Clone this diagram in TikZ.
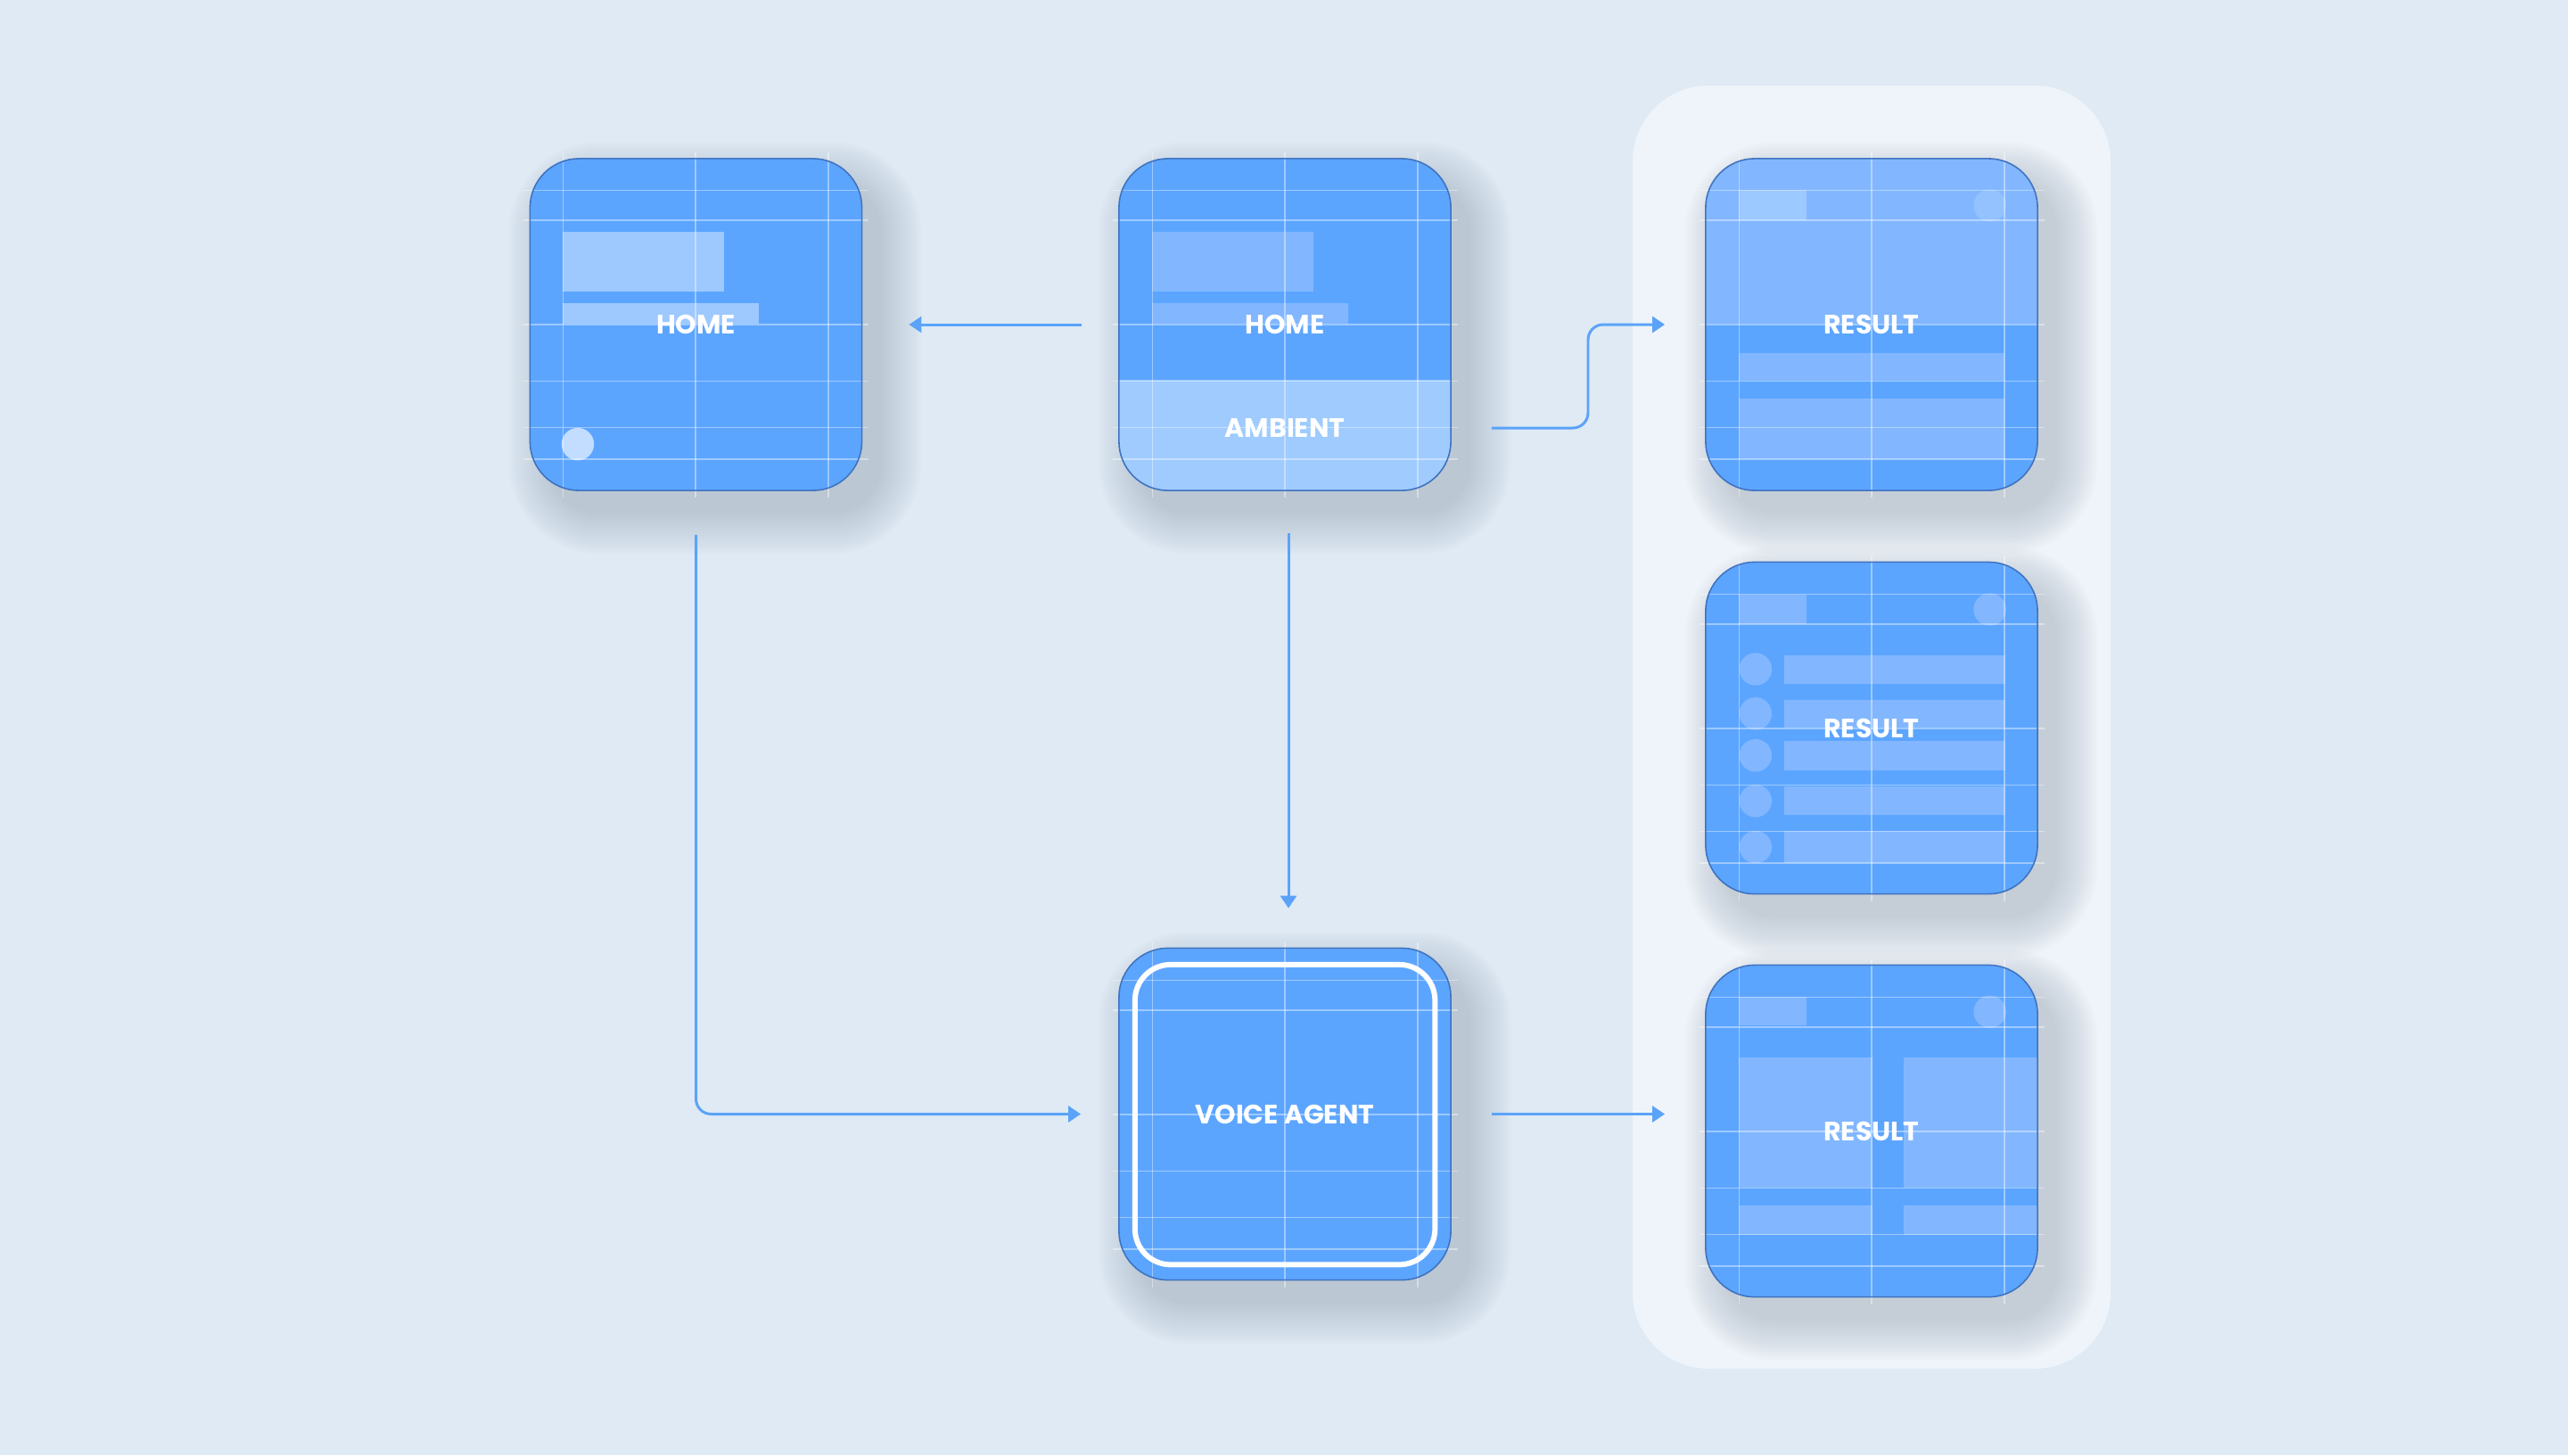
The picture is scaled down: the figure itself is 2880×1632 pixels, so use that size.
\documentclass[tikz,border=0pt]{standalone}
\usepackage{fontspec}
\newfontfamily\labelfont{Poppins}
\usetikzlibrary{arrows.meta}

\definecolor{bgc}{HTML}{DFEAF5}
\definecolor{panelc}{HTML}{EEF4FA}
\definecolor{shadowc}{HTML}{7F8C99}
\definecolor{tilec}{HTML}{5CA5FF}
\definecolor{tileedge}{HTML}{3F73C0}
\definecolor{lightc}{HTML}{9DC9FF}
\definecolor{dotc}{HTML}{C2DDFF}
\definecolor{midc}{HTML}{82B7FF}
\definecolor{ambc}{HTML}{9FCBFF}
\definecolor{softc}{HTML}{9CC9FF}
\definecolor{softdot}{HTML}{93C2FF}
\definecolor{flowc}{HTML}{5BA3F8}

\tikzset{
  tileframe/.style={draw=tileedge, line width=0.45pt, rounded corners=0.55cm,
    minimum width=3.72cm, minimum height=3.72cm, inner sep=0pt,
    font=\labelfont\bfseries\fontsize{8.5}{10}\selectfont, text=white},
  tiletext/.style={inner sep=0pt, font=\labelfont\bfseries\fontsize{8.5}{10}\selectfont, text=white},
  gridline/.style={draw=white, draw opacity=0.4, line width=0.4pt},
  flow/.style={draw=flowc, line width=0.85pt, rounded corners=0.17cm,
    -{Triangle[length=0.14cm,width=0.18cm]}},
}

% soft drop shadow under a tile whose top-left corner is (#1,#2)
\newcommand\tileshadow[2]{%
  \foreach \r in {0,3,...,45}{%
    \pgfmathsetmacro\rc{0.55+\r*0.01}%
    \fill[shadowc, opacity=0.024, rounded corners=\rc cm]
      ({#1+22-\r},{#2+26-\r}) rectangle ({#1+394+\r},{#2+398+\r});
  }}

% layout guides drawn over a tile, in tile-local coordinates
\newcommand\tilegrid{%
  \foreach \g in {0.1,0.5,0.9} \draw[gridline] (\g,-0.02) -- (\g,1.02);
  \foreach \g in {0.095,0.185,0.5,0.67,0.81,0.905} \draw[gridline] (-0.02,\g) -- (1.02,\g);
}

\begin{document}
\begin{tikzpicture}[x=0.01cm, y=-0.01cm]
\useasboundingbox (0,0) rectangle (2880,1632);
\fill[bgc] (0,0) rectangle (2880,1632);

% panel grouping the result screens
\fill[panelc, rounded corners=0.85cm] (1831,96) rectangle (2367,1535);

% shadows
\tileshadow{594}{178}
\tileshadow{1255}{178}
\tileshadow{1913}{178}
\tileshadow{1913}{631}
\tileshadow{1913}{1083}
\tileshadow{1255}{1064}

% HOME
\begin{scope}[shift={(594,178)}, x=3.72cm, y=-3.72cm]
  \begin{scope}
    \clip[rounded corners=0.55cm] (0,0) rectangle (1,1);
    \fill[tilec] (0,0) rectangle (1,1);
    \fill[lightc] (0.1,0.22) rectangle (0.585,0.40);
    \fill[lightc] (0.1,0.435) rectangle (0.69,0.497);
    \fill[dotc] (0.145,0.86) circle[radius=0.049];
  \end{scope}
  \tilegrid
\end{scope}
\node[tileframe] (home) at (780.5,364) {HOME};

% HOME / AMBIENT
\begin{scope}[shift={(1255,178)}, x=3.72cm, y=-3.72cm]
  \begin{scope}
    \clip[rounded corners=0.55cm] (0,0) rectangle (1,1);
    \fill[tilec] (0,0) rectangle (1,1);
    \fill[midc] (0.1,0.22) rectangle (0.585,0.40);
    \fill[midc] (0.1,0.435) rectangle (0.69,0.497);
    \fill[ambc] (0,0.667) rectangle (1,1);
  \end{scope}
  \tilegrid
\end{scope}
\node[tileframe] (homeamb) at (1441,364) {HOME};
\node[tiletext] (amb) at (1441,480) {AMBIENT};

% RESULT (detail)
\begin{scope}[shift={(1913,178)}, x=3.72cm, y=-3.72cm]
  \begin{scope}
    \clip[rounded corners=0.55cm] (0,0) rectangle (1,1);
    \fill[tilec] (0,0) rectangle (1,1);
    \fill[midc] (0,0) rectangle (1,0.497);
    \fill[softc] (0.1,0.094) rectangle (0.303,0.185);
    \fill[softdot] (0.856,0.141) circle[radius=0.049];
    \fill[midc] (0.1,0.585) rectangle (0.9,0.67);
    \fill[midc] (0.1,0.723) rectangle (0.9,0.905);
  \end{scope}
  \tilegrid
\end{scope}
\node[tileframe] (res1) at (2099,364) {RESULT};

% RESULT (list)
\begin{scope}[shift={(1913,631)}, x=3.72cm, y=-3.72cm]
  \begin{scope}
    \clip[rounded corners=0.55cm] (0,0) rectangle (1,1);
    \fill[tilec] (0,0) rectangle (1,1);
    \fill[midc] (0.1,0.097) rectangle (0.303,0.185);
    \fill[midc] (0.856,0.141) circle[radius=0.049];
    \foreach \cy/\ta/\tb in {0.321/0.279/0.364, 0.455/0.413/0.498, 0.581/0.538/0.625,
                            0.718/0.673/0.76, 0.857/0.809/0.906}{
      \fill[midc] (0.15,\cy) circle[radius=0.049];
      \fill[midc] (0.237,\ta) rectangle (0.903,\tb);
    }
  \end{scope}
  \tilegrid
\end{scope}
\node[tileframe] (res2) at (2099,816.5) {RESULT};

% RESULT (cards)
\begin{scope}[shift={(1913,1083)}, x=3.72cm, y=-3.72cm]
  \begin{scope}
    \clip[rounded corners=0.55cm] (0,0) rectangle (1,1);
    \fill[tilec] (0,0) rectangle (1,1);
    \fill[midc] (0.1,0.094) rectangle (0.303,0.18);
    \fill[midc] (0.856,0.139) circle[radius=0.049];
    \fill[midc] (0.1,0.277) rectangle (0.502,0.67);
    \fill[midc] (0.596,0.277) rectangle (1,0.67);
    \fill[midc] (0.1,0.723) rectangle (0.502,0.81);
    \fill[midc] (0.596,0.723) rectangle (1,0.81);
  \end{scope}
  \tilegrid
\end{scope}
\node[tileframe] (res3) at (2099,1268.5) {RESULT};

% VOICE AGENT
\begin{scope}[shift={(1255,1064)}, x=3.72cm, y=-3.72cm]
  \begin{scope}
    \clip[rounded corners=0.55cm] (0,0) rectangle (1,1);
    \fill[tilec] (0,0) rectangle (1,1);
  \end{scope}
  \tilegrid
  \draw[white, line width=1.7pt, rounded corners=0.4cm] (0.048,0.048) rectangle (0.952,0.952);
\end{scope}
\node[tileframe] (voice) at (1441,1249.5) {VOICE AGENT};

% connectors
\draw[flow] ([xshift=-0.41cm]homeamb.west) -- ([xshift=0.52cm]home.east);
\draw[flow] ([xshift=0.45cm]homeamb.east |- amb.center) -- ++(1.08cm,0)
            |- ([xshift=-0.45cm]res1.west);
\draw[flow] ([xshift=0.04cm,yshift=-0.47cm]homeamb.south) -- ([xshift=0.04cm,yshift=0.44cm]voice.north);
\draw[flow] ([yshift=-0.49cm]home.south) |- ([xshift=-0.42cm]voice.west);
\draw[flow] ([xshift=0.45cm]voice.east) -- ([xshift=-0.45cm]res3.west |- voice.east);
\end{tikzpicture}
\end{document}
